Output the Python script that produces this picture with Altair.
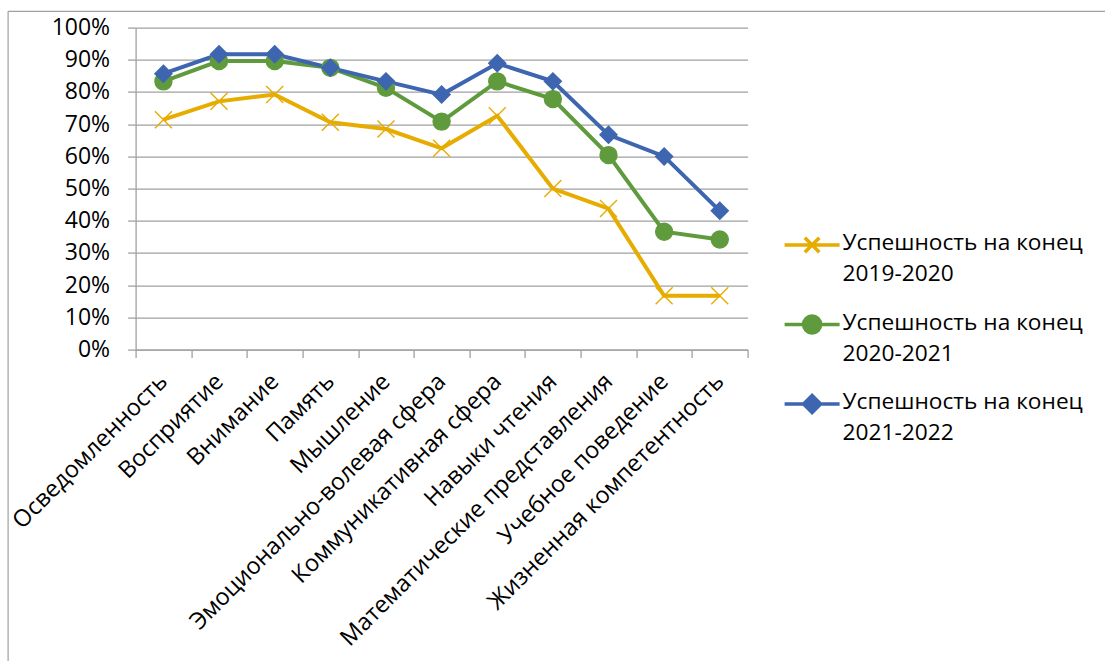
import altair as alt
import pandas as pd

# Categories along the x axis
categories = [
    "Осведомленность",
    "Восприятие",
    "Внимание",
    "Память",
    "Мышление",
    "Эмоционально-волевая сфера",
    "Коммуникативная сфера",
    "Навыки чтения",
    "Математические представления",
    "Учебное поведение",
    "Жизненная компетентность",
]

series = [
    "Успешность на конец 2019-2020",
    "Успешность на конец 2020-2021",
    "Успешность на конец 2021-2022",
]

# Share of success per category, one list per school year
values_2019_2020 = [0.714, 0.771, 0.792, 0.706, 0.685, 0.625, 0.726, 0.500, 0.438, 0.167, 0.167]
values_2020_2021 = [0.833, 0.896, 0.896, 0.875, 0.813, 0.708, 0.833, 0.778, 0.604, 0.366, 0.342]
values_2021_2022 = [0.857, 0.917, 0.917, 0.875, 0.833, 0.792, 0.889, 0.833, 0.667, 0.600, 0.431]

colors = ["#E6AC00", "#5F9B3C", "#3E66B0"]
fills = ["transparent", colors[1], colors[2]]

rows = []
for name, vals in zip(series, [values_2019_2020, values_2020_2021, values_2021_2022]):
    for cat, v in zip(categories, vals):
        rows.append({"Категория": cat, "Серия": name, "Значение": v})
df = pd.DataFrame(rows)

FONT = "Open Sans"

# Plot markers (unit box scaled by sqrt(size)/2)
markers = ["M-1,-1L1,1M-1,1L1,-1", "circle", "diamond"]

# Legend symbols: a line segment with the series marker, level with the first label line
dy = 0.07
r = 0.31
c = r * 0.85
leg_paths = [
    f"M-1,{dy}L1,{dy}M{-c},{dy - c}L{c},{dy + c}M{-c},{dy + c}L{c},{dy - c}",
    f"M-1,{dy}L1,{dy}M{-r},{dy}A{r},{r} 0 1,0 {r},{dy}A{r},{r} 0 1,0 {-r},{dy}Z",
    f"M-1,{dy}L1,{dy}M{-r},{dy}L0,{dy - r}L{r},{dy}L0,{dy + r}Z",
]

x_enc = alt.X(
    "Категория:N",
    sort=categories,
    scale=alt.Scale(type="band", paddingInner=0, paddingOuter=0),
    bandPosition=0.5,
    axis=alt.Axis(
        title=None,
        tickBand="extent",
        labelAngle=-45,
        labelAlign="right",
        labelBaseline="middle",
        labelPadding=20,
        labelFont=FONT,
        labelFontSize=23.5,
        labelColor="#000000",
        labelLimit=500,
        labelOverlap=False,
        domainColor="#a0a0a0",
        domainWidth=1.3,
        tickColor="#a0a0a0",
        tickWidth=1.3,
        tickSize=8,
        grid=False,
    ),
)
y_enc = alt.Y(
    "Значение:Q",
    scale=alt.Scale(domain=[0, 1], nice=False),
    axis=alt.Axis(
        title=None,
        values=[i / 10 for i in range(11)],
        format=".0%",
        labelFont=FONT,
        labelFontSize=23,
        labelColor="#000000",
        labelPadding=18,
        domainColor="#a0a0a0",
        domainWidth=1.3,
        tickColor="#a0a0a0",
        tickWidth=1.3,
        tickSize=8,
        gridColor="#a0a0a0",
        gridWidth=1.3,
    ),
)

lines = alt.Chart(df).mark_line(strokeWidth=4, clip=False).encode(
    x=x_enc,
    y=y_enc,
    color=alt.Color("Серия:N", sort=series, scale=alt.Scale(domain=series, range=colors), legend=None),
)

points = alt.Chart(df).mark_point(filled=True, size=289, strokeWidth=1.4, opacity=1, clip=False).encode(
    x=x_enc,
    y=y_enc,
    shape=alt.Shape("Серия:N", sort=series, scale=alt.Scale(domain=series, range=markers), legend=None),
    fill=alt.Fill("Серия:N", sort=series, scale=alt.Scale(domain=series, range=fills), legend=None),
    stroke=alt.Stroke("Серия:N", sort=series, scale=alt.Scale(domain=series, range=colors), legend=None),
)

legend_props = dict(
    title=None,
    orient="none",
    legendX=647,
    legendY=186,
    padding=0,
    rowPadding=6.5,
    symbolSize=3025,
    symbolStrokeWidth=3.5,
    symbolOpacity=1,
    labelOffset=1,
    labelFont=FONT,
    labelFontSize=22.7,
    labelColor="#000000",
    labelLimit=400,
    labelExpr="[substring(datum.label, 0, 19), substring(datum.label, 20)]",
)

# Invisible layer that only carries the legend
legend_layer = alt.Chart(df).mark_point(filled=True, size=3025, opacity=0, clip=False).encode(
    x=x_enc,
    y=y_enc,
    shape=alt.Shape("Серия:N", sort=series, scale=alt.Scale(domain=series, range=leg_paths), legend=alt.Legend(**legend_props)),
    fill=alt.Fill("Серия:N", sort=series, scale=alt.Scale(domain=series, range=fills), legend=alt.Legend(**legend_props)),
    stroke=alt.Stroke("Серия:N", sort=series, scale=alt.Scale(domain=series, range=colors), legend=alt.Legend(**legend_props)),
)

# Outer frame of the chart area
frame_df = pd.DataFrame({"k": [0]})
frame_left = alt.Chart(frame_df).mark_rule(color="#a0a0a0", strokeWidth=1.2, clip=False).encode(
    x=alt.value(-127.5), y=alt.value(-16.3), y2=alt.value(700)
)
frame_top = alt.Chart(frame_df).mark_rule(color="#a0a0a0", strokeWidth=1.2, clip=False).encode(
    x=alt.value(-127.5), x2=alt.value(1100), y=alt.value(-16.3)
)

chart = (
    alt.layer(frame_left, frame_top, lines, points, legend_layer)
    .resolve_scale(shape="independent", fill="independent", stroke="independent")
    .properties(
        width=612,
        height=322,
        autosize=alt.AutoSizeParams(type="none"),
        padding={"left": 135.6, "top": 27.6, "right": 357, "bottom": 311},
        background="white",
    )
    .configure(style={"guide-label": {"lineHeight": 31}})
    .configure_view(stroke=None)
)

chart.save("out.html", embed_options={"renderer": "svg", "actions": False})
